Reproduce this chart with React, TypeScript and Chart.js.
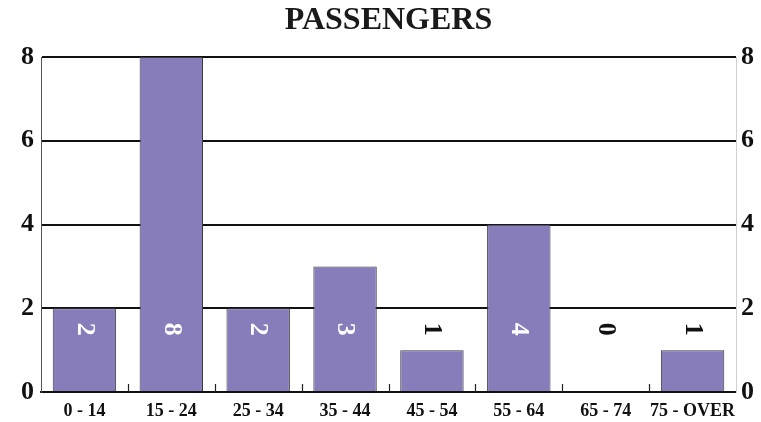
import React, { useEffect, useRef } from "react";
import { Chart, registerables } from "chart.js";

Chart.register(...registerables);

const categories = ["0 - 14", "15 - 24", "25 - 34", "35 - 44", "45 - 54", "55 - 64", "65 - 74", "75 - OVER"];
const passengers = [2, 8, 2, 3, 1, 4, 0, 1];
const yTicks = [0, 2, 4, 6, 8];
const titleText = "PASSENGERS";
const labelValue = 1.5;

const FONT = "'Liberation Serif', 'Times New Roman', serif";

const overlayPlugin = {
  id: "overlay",
  afterDatasetsDraw(chart: any) {
    const ctx = chart.ctx;
    const x = chart.scales.x;
    const y = chart.scales.y;
    const bottom = chart.chartArea.bottom;
    ctx.save();
    // boundary ticks
    ctx.strokeStyle = "#222";
    ctx.lineWidth = 1.2;
    for (let i = 1; i < categories.length; i++) {
      const px = (x.getPixelForValue(i - 1) + x.getPixelForValue(i)) / 2;
      ctx.beginPath();
      ctx.moveTo(Math.round(px) + 0.5, bottom);
      ctx.lineTo(Math.round(px) + 0.5, bottom - 8);
      ctx.stroke();
    }
    // value labels, rotated
    ctx.font = `bold 26px ${FONT}`;
    ctx.textAlign = "center";
    ctx.textBaseline = "middle";
    passengers.forEach((v, i) => {
      const px = x.getPixelForValue(i);
      const py = y.getPixelForValue(labelValue);
      ctx.save();
      ctx.translate(px, py);
      ctx.rotate(Math.PI / 2);
      ctx.fillStyle = v >= 2 ? "#ffffff" : "#111111";
      ctx.fillText(String(v), 0, 0);
      ctx.restore();
    });
    ctx.restore();
  },
};

export default function App() {
  const ref = useRef<HTMLCanvasElement>(null);
  useEffect(() => {
    if (!ref.current) return;
    const chart = new Chart(ref.current, {
      type: "bar",
      data: {
        labels: categories,
        datasets: [
          {
            label: titleText,
            data: passengers,
            backgroundColor: "#877dbb",
            borderColor: "#3a3a3a",
            borderWidth: 1,
            barPercentage: 0.73,
            categoryPercentage: 1,
          },
        ],
      },
      options: {
        animation: false,
        responsive: false,
        devicePixelRatio: 1,
        layout: { padding: 0 },
        plugins: {
          legend: { display: false },
          tooltip: { enabled: false },
          title: {
            display: true,
            fullSize: false,
            text: titleText,
            color: "#1a1a1a",
            font: { family: FONT, size: 32, weight: "bold", lineHeight: 1.2 },
            padding: { top: 2, bottom: 16.6 },
          },
        },
        scales: {
          x: {
            grid: { display: false },
            border: { display: true, color: "#111", width: 2 },
            ticks: {
              color: "#111",
              font: { family: FONT, size: 18, weight: "bold" },
              padding: 1,
              maxRotation: 0,
              autoSkip: false,
            },
            afterFit(s: any) {
              s.height = 30;
            },
          },
          y: {
            position: "left",
            min: 0,
            max: 8,
            grid: { color: "#111", lineWidth: 2, drawTicks: false },
            border: { display: true, color: "#555", width: 1 },
            ticks: {
              stepSize: 2,
              color: "#111",
              font: { family: FONT, size: 26, weight: "bold" },
              padding: 7,
              callback: (v: any) => (yTicks.includes(v) ? String(v) : ""),
            },
            afterFit(s: any) {
              s.width = 41;
            },
          },
          y2: {
            position: "right",
            min: 0,
            max: 8,
            grid: { display: false, drawTicks: false },
            border: { display: true, color: "#d0d0d0", width: 1 },
            ticks: {
              stepSize: 2,
              color: "#111",
              font: { family: FONT, size: 26, weight: "bold" },
              padding: 5,
              callback: (v: any) => (yTicks.includes(v) ? String(v) : ""),
            },
            afterFit(s: any) {
              s.width = 25;
            },
          },
        },
      },
      plugins: [overlayPlugin],
    });
    return () => chart.destroy();
  }, []);
  return (
    <div style={{ position: "absolute", left: 0, top: 0, width: 761, height: 422, background: "#fff" }}>
      <canvas ref={ref} width={761} height={422} />
    </div>
  );
}
